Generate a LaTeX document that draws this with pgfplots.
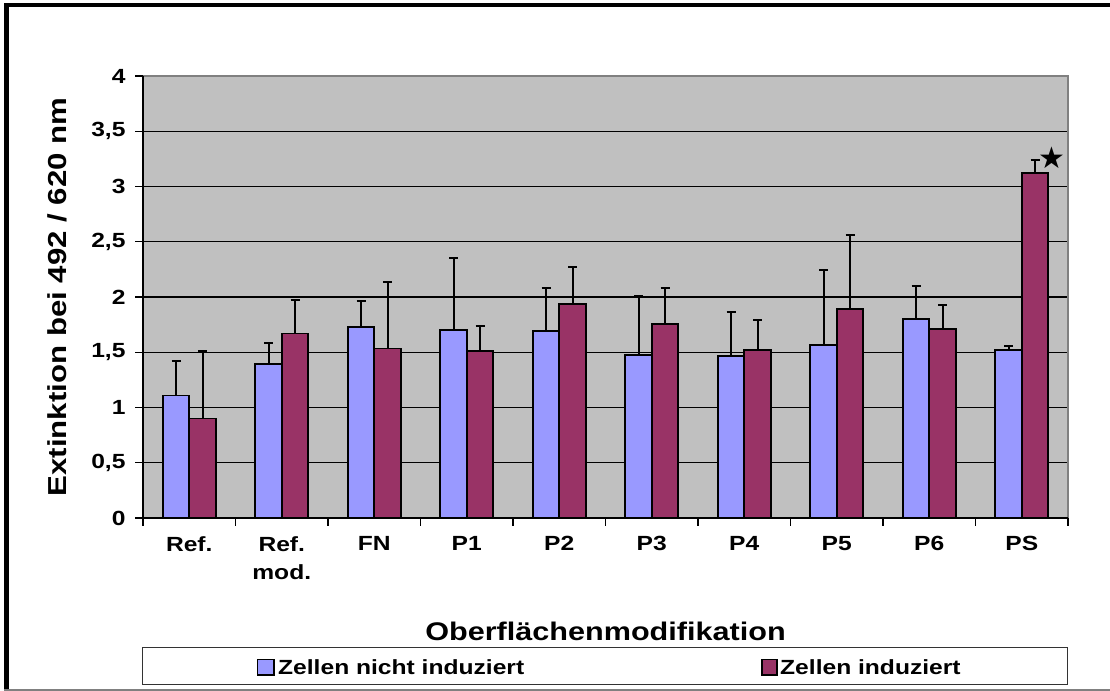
\documentclass[border=0pt]{standalone}
\usepackage{pgfplots}
\pgfplotsset{compat=1.18}
\usepackage{fontspec}
\setmainfont{Liberation Sans}[FakeStretch=1.2]
\newfontfamily\symfont{DejaVu Sans}
\definecolor{cblue}{HTML}{9999FF}
\definecolor{cred}{HTML}{993366}
\definecolor{plotbg}{HTML}{C0C0C0}
\pgfplotstableread{
x y e
0 1.108 0.317
1 1.395 0.187
2 1.727 0.241
3 1.700 0.652
4 1.690 0.387
5 1.476 0.531
6 1.464 0.398
7 1.563 0.677
8 1.799 0.296
9 1.521 0.033
}\nichtinduziert
\pgfplotstableread{
x y e
0 0.902 0.613
1 1.669 0.302
2 1.533 0.607
3 1.509 0.233
4 1.935 0.332
5 1.754 0.323
6 1.518 0.275
7 1.890 0.673
8 1.712 0.217
9 3.121 0.118
}\induziert
\newcommand{\tickfont}{\bfseries\fontsize{20.5bp}{28bp}\selectfont}
\begin{document}
\begin{tikzpicture}[x=1bp,y=1bp]
\useasboundingbox (0,0) rectangle (1110,691);
\fill[white] (0,0) rectangle (1110,691);
\begin{axis}[
  at={(143bp,173bp)}, anchor=south west,
  scale only axis, width=925bp, height=442bp,
  ybar=0pt, bar width=26.5bp,
  xmin=-0.5, xmax=9.5, ymin=0, ymax=4,
  xtick={-0.5,0.5,1.5,2.5,3.5,4.5,5.5,6.5,7.5,8.5,9.5},
  x tick label as interval,
  xticklabels={Ref., Ref.\\mod., FN, P1, P2, P3, P4, P5, P6, PS},
  ytick={0,0.5,1,1.5,2,2.5,3,3.5,4},
  /pgf/number format/use comma,
  /pgf/number format/assume math mode=true,
  tick align=outside, xtick pos=bottom, ytick pos=left,
  major tick length=8bp,
  tick style={black, line width=1.2bp},
  ymajorgrids, grid style={black, line width=1.3bp},
  axis line style={draw=none},
  axis background/.style={fill=plotbg},
  yticklabel style={font=\tickfont, xshift=-6bp},
  xticklabel style={font=\tickfont, align=center, yshift=-7bp},
  xlabel={Oberflächenmodifikation},
  ylabel={Extinktion bei 492 / 620 nm},
  every axis x label/.style={at={(axis description cs:0.5,-0.278)}, anchor=base, font=\bfseries\fontsize{25.5bp}{30bp}\selectfont},
  every axis y label/.style={at={(axis description cs:-0.0832,0.5)}, anchor=base, rotate=90, font=\bfseries\fontsize{26bp}{30bp}\selectfont},
  clip=false,
]
\addplot[bar shift=-13.25bp, fill=cblue, draw=black, line width=1.6bp,
  error bars/.cd, y dir=plus, y explicit,
  error bar style={line width=2bp, black},
  error mark options={rotate=90, line width=2bp, mark size=4.5bp, black}]
  table[x=x, y=y, y error=e] {\nichtinduziert};
\addplot[bar shift=13.25bp, fill=cred, draw=black, line width=1.6bp,
  error bars/.cd, y dir=plus, y explicit,
  error bar style={line width=2bp, black},
  error mark options={rotate=90, line width=2bp, mark size=4.5bp, black}]
  table[x=x, y=y, y error=e] {\induziert};
\addplot[bar shift=0pt, draw=none, fill=none, only marks, mark=text, text mark={\symfont\fontsize{30bp}{30bp}\selectfont ★}, forget plot]
  coordinates {(9.324,3.26)};
\draw[black!50, line width=1.6bp] (rel axis cs:0,1) -- (rel axis cs:1,1) -- (rel axis cs:1,0);
\draw[black, line width=1.5bp] (rel axis cs:0,1) -- (rel axis cs:0,0) -- (rel axis cs:1,0);
\end{axis}
% outer frame
\fill[black] (4,0) rectangle (9,688.3);
\fill[black] (4,683.7) rectangle (1110,688.3);
\fill[black!50] (4,0) rectangle (1110,2);
% legend
\draw[black!80, line width=1.3bp, fill=white] (142.7,6.7) rectangle (1067.3,43.7);
\draw[black, line width=1.3bp, fill=cblue] (257.7,16) rectangle (274,31.7);
\node[anchor=base west, inner sep=0pt, font=\tickfont] at (278,16) {Zellen nicht induziert};
\draw[black, line width=1.3bp, fill=cred] (762,16) rectangle (777,31.7);
\node[anchor=base west, inner sep=0pt, font=\tickfont] at (780,16) {Zellen induziert};
\end{tikzpicture}
\end{document}
